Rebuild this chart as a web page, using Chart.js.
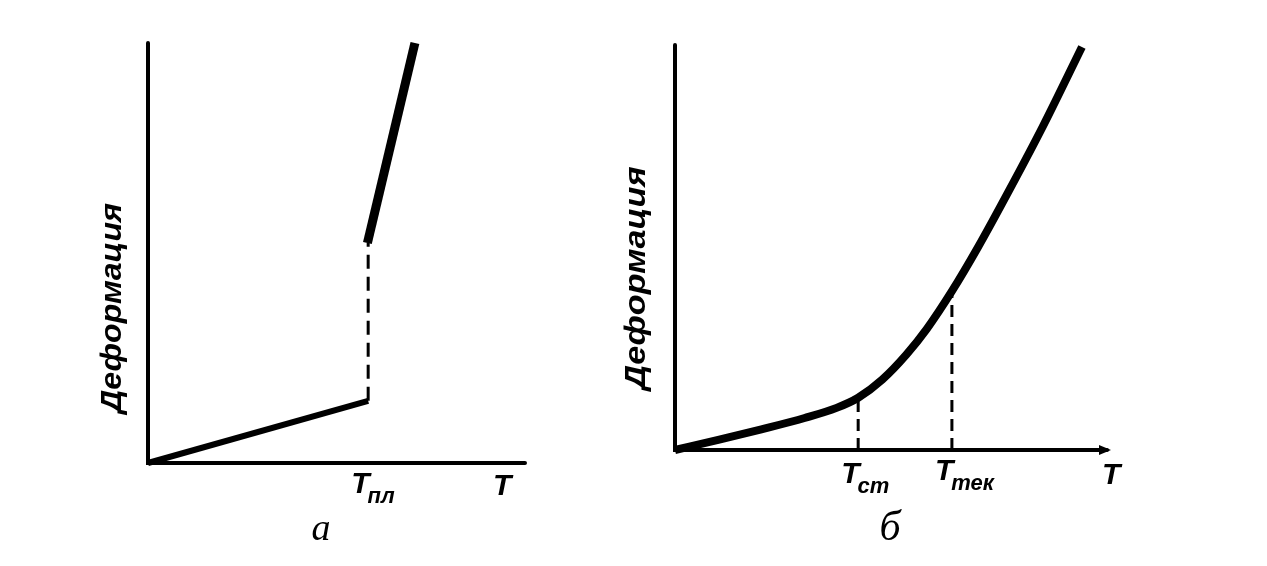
<!DOCTYPE html>
<html>
<head>
<meta charset="utf-8">
<script src="https://cdn.jsdelivr.net/npm/chart.js@4/dist/chart.umd.min.js"></script>
<style>
  body { margin: 0; background: #fff; width: 1267px; height: 566px; overflow: hidden; position: relative; }
  canvas { position: absolute; top: 0; }
</style>
</head>
<body>
<canvas id="chartA" width="560" height="566" style="left:0"></canvas>
<canvas id="chartB" width="707" height="566" style="left:560px"></canvas>
<script>
// а: crystalline polymer, jump at melting point
const meltT = 58.4;
const solidT = [0, 58.4];
const solidDef = [0, 14.8];
const liquidT = [58.2, 70.8];
const liquidDef = [52.4, 100];

// б: amorphous polymer, glass and flow temperatures
const glassT = 42.4;
const flowT = 64.1;
const amorphT = [0, 10, 20, 30, 37.4, 42.4, 48.0, 53.6, 58.3, 64.1, 70.0, 77.5, 85.2, 94.2];
const amorphDef = [0, 2.5, 5.1, 7.9, 10.4, 12.9, 17.4, 23.6, 29.9, 39.2, 49.8, 64.4, 80.0, 99.5];

const pts = (xs, ys) => xs.map((x, i) => ({x: x, y: ys[i]}));
const defAt = t => amorphDef[amorphT.indexOf(t)];

const TFONT = 'bold italic 30px "Liberation Sans"';
const SUBFONT = 'bold italic 22px "Liberation Sans"';

// axes, tick names and titles drawn in the old textbook manner
const sketch = {
  id: 'sketch',
  beforeDatasetsDraw(chart, args, o) {
    const ctx = chart.ctx, x = chart.scales.x, y = chart.scales.y;
    const x0 = x.getPixelForValue(0), y0 = y.getPixelForValue(0);
    const xe = x.getPixelForValue(x.max), ye = y.getPixelForValue(y.max);
    ctx.save();
    ctx.strokeStyle = '#000';
    ctx.fillStyle = '#000';
    ctx.lineWidth = 4;
    ctx.lineCap = 'round';
    ctx.beginPath();
    ctx.moveTo(x0, ye);
    ctx.lineTo(x0, y0);
    ctx.lineTo(xe, y0);
    ctx.stroke();
    if (o.arrow) {
      ctx.beginPath();
      ctx.moveTo(xe + 4, y0);
      ctx.lineTo(xe - 8, y0 - 5);
      ctx.lineTo(xe - 8, y0 + 5);
      ctx.closePath();
      ctx.fill();
    }
    ctx.restore();
  },
  afterDraw(chart, args, o) {
    const ctx = chart.ctx, x = chart.scales.x, y = chart.scales.y;
    const y0 = y.getPixelForValue(0), xe = x.getPixelForValue(x.max);
    ctx.save();
    ctx.fillStyle = '#000';
    ctx.textBaseline = 'alphabetic';
    ctx.textAlign = 'left';
    o.ticks.forEach(t => {
      const px = x.getPixelForValue(t.value) - 17;
      ctx.font = TFONT;
      ctx.fillText('T', px, y0 + t.dy);
      const w = ctx.measureText('T').width;
      ctx.font = SUBFONT;
      ctx.fillText(t.sub, px + w - 2, y0 + t.dy + 10);
    });
    ctx.font = TFONT;
    ctx.fillText('T', xe + o.axisDx, y0 + o.axisDy);
    // caption under the graph
    ctx.font = o.capFont;
    ctx.textAlign = 'center';
    ctx.fillText(o.caption, o.capX, o.capY);
    // rotated y title, stretched to its length
    ctx.font = 'bold italic 30px "Liberation Sans"';
    const tw = ctx.measureText('Деформация').width;
    ctx.translate(o.titleX, o.titleY);
    ctx.rotate(-Math.PI / 2);
    ctx.scale(o.titleLen / tw, 1);
    ctx.textBaseline = 'middle';
    ctx.fillText('Деформация', 0, 0);
    ctx.restore();
  }
};

const baseScales = {
  x: {type: 'linear', min: 0, max: 100, display: false},
  y: {type: 'linear', min: 0, max: 100, display: false}
};

new Chart('chartA', {
  type: 'scatter',
  data: {
    datasets: [
      {data: pts(solidT, solidDef), showLine: true, borderColor: '#000', borderWidth: 6, pointRadius: 0, clip: false},
      {data: pts(liquidT, liquidDef), showLine: true, borderColor: '#000', borderWidth: 9, pointRadius: 0, clip: false},
      {data: [{x: meltT, y: solidDef[1]}, {x: meltT, y: liquidDef[0]}], showLine: true, borderColor: '#000',
        borderWidth: 3, borderDash: [14, 8], pointRadius: 0, clip: false}
    ]
  },
  options: {
    responsive: false,
    animation: false,
    layout: {padding: {left: 148, right: 35, top: 43, bottom: 103}},
    scales: baseScales,
    plugins: {
      legend: {display: false},
      tooltip: {enabled: false},
      sketch: {
        arrow: false,
        ticks: [{value: meltT, sub: 'пл', dy: 30}],
        axisDx: -32, axisDy: 32,
        caption: 'а', capFont: 'italic 38px "Liberation Serif"', capX: 321, capY: 540,
        titleX: 113, titleY: 308, titleLen: 210
      }
    }
  },
  plugins: [sketch]
});

new Chart('chartB', {
  type: 'scatter',
  data: {
    datasets: [
      {data: pts(amorphT, amorphDef), showLine: true, borderColor: '#000', borderWidth: 8, pointRadius: 0,
        cubicInterpolationMode: 'monotone', clip: false},
      {data: [{x: glassT, y: 0}, {x: glassT, y: defAt(glassT)}], showLine: true, borderColor: '#000',
        borderWidth: 3, borderDash: [12, 7], pointRadius: 0, clip: false},
      {data: [{x: flowT, y: 0}, {x: flowT, y: defAt(flowT)}], showLine: true, borderColor: '#000',
        borderWidth: 3, borderDash: [12, 7], pointRadius: 0, clip: false}
    ]
  },
  options: {
    responsive: false,
    animation: false,
    layout: {padding: {left: 115, right: 160, top: 45, bottom: 116}},
    scales: baseScales,
    plugins: {
      legend: {display: false},
      tooltip: {enabled: false},
      sketch: {
        arrow: true,
        ticks: [{value: glassT, sub: 'ст', dy: 33}, {value: flowT, sub: 'тек', dy: 30}],
        axisDx: -5, axisDy: 34,
        caption: 'б', capFont: 'italic 42px "Liberation Serif"', capX: 330, capY: 540,
        titleX: 77, titleY: 278, titleLen: 223
      }
    }
  },
  plugins: [sketch]
});
</script>
</body>
</html>
